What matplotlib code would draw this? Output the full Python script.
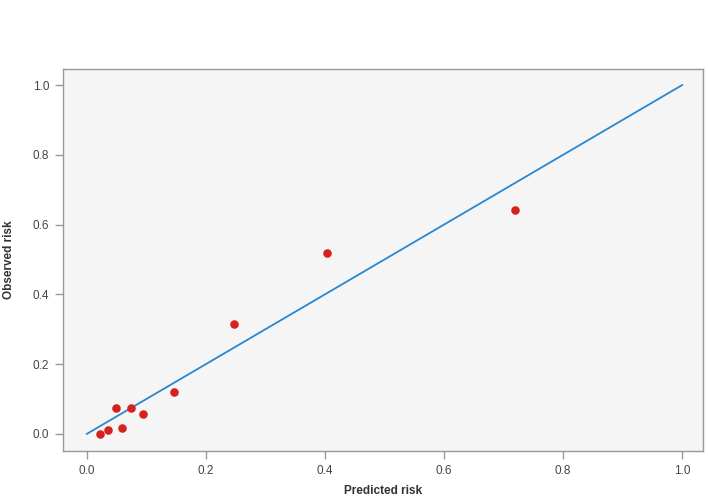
import matplotlib
matplotlib.use("Agg")
import matplotlib.pyplot as plt

predicted = [0.022, 0.036, 0.049, 0.059, 0.074, 0.095, 0.146, 0.248, 0.403, 0.720]
observed = [0.000, 0.012, 0.074, 0.016, 0.074, 0.056, 0.120, 0.314, 0.518, 0.641]
ref_line = [0.0, 1.0]
ticks = [0.0, 0.2, 0.4, 0.6, 0.8, 1.0]
tick_labels = ["0.0", "0.2", "0.4", "0.6", "0.8", "1.0"]

plt.rcParams['font.family'] = ['Liberation Sans', 'DejaVu Sans']

fig = plt.figure(figsize=(7.08, 4.96), dpi=100)
ax = fig.add_axes([63/708, 1-451/496, 640/708, 382/496])
ax.set_facecolor('#f5f5f5')

ax.plot(ref_line, ref_line, color='#2a87cf', lw=1.3, zorder=2)
ax.scatter(predicted, observed, s=38, color='#d6221e', zorder=3, linewidths=0)

ax.set_xlim(-0.04, 1.035)
ax.set_ylim(-0.049, 1.046)
ax.set_xticks(ticks)
ax.set_xticklabels(tick_labels)
ax.set_yticks(ticks)
ax.set_yticklabels(tick_labels)
ax.tick_params(direction='out', length=6, width=1, color='#999999',
               labelsize=8.5, labelcolor='#444444', pad=4)
for s in ax.spines.values():
    s.set_color('#999999')
    s.set_linewidth(1.0)

ax.set_xlabel('Predicted risk', fontsize=8.5, fontweight='bold', color='#333333', labelpad=6)
ax.set_ylabel('Observed risk', fontsize=8.5, fontweight='bold', color='#333333', labelpad=13)

fig.savefig('out.png', dpi=100)
